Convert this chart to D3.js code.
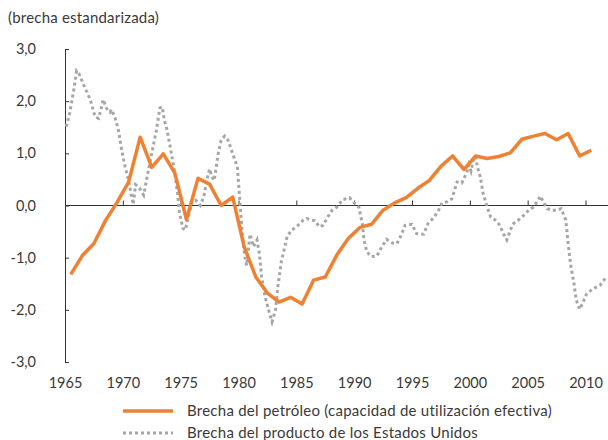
<!DOCTYPE html>
<html>
<head>
<meta charset="utf-8">
<script src="https://cdn.jsdelivr.net/npm/d3@7"></script>
<style>
  body { margin: 0; background: #fff; }
  svg text { font-family: Lato, "Open Sans", sans-serif; fill: #3a3a3a; }
</style>
</head>
<body>
<div id="chart"></div>
<script>
// brecha del petróleo, anual (1965-2010)
var oilYears = d3.range(1965, 2011);
var oilGap = [
  -1.32, -0.96, -0.73, -0.29, 0.06, 0.45, 1.31, 0.73, 0.99, 0.62,
  -0.27, 0.52, 0.41, 0.00, 0.16, -0.80, -1.37, -1.68, -1.85, -1.76,
  -1.89, -1.43, -1.37, -0.95, -0.63, -0.42, -0.36, -0.09, 0.05, 0.15,
  0.33, 0.48, 0.75, 0.95, 0.69, 0.95, 0.90, 0.94, 1.01, 1.27,
  1.33, 1.38, 1.26, 1.38, 0.95, 1.06
];

// brecha del producto de EE.UU. (año decimal, valor)
var usGap = [
  [1965.1, 1.51], [1965.4, 1.76], [1965.8, 2.27], [1966.0, 2.58], [1966.2, 2.53],
  [1966.7, 2.27], [1967.2, 2.02], [1967.6, 1.70], [1967.9, 1.67], [1968.2, 1.92],
  [1968.3, 2.03], [1968.6, 1.86], [1968.9, 1.79], [1969.0, 1.84], [1969.3, 1.70],
  [1969.6, 1.47], [1969.9, 1.06], [1970.2, 0.74], [1970.5, 0.48], [1970.7, 0.23],
  [1970.9, 0.02], [1971.1, 0.40], [1971.4, 0.35], [1971.8, 0.20], [1972.1, 0.55],
  [1972.5, 1.00], [1972.9, 1.44], [1973.2, 1.87], [1973.4, 1.89], [1973.6, 1.63],
  [1973.8, 1.47], [1974.1, 1.12], [1974.4, 0.74], [1974.7, 0.29], [1974.9, -0.15],
  [1975.2, -0.44], [1975.4, -0.47], [1975.7, -0.18], [1976.0, 0.08], [1976.3, 0.10],
  [1976.7, 0.00], [1977.0, 0.17], [1977.25, 0.48], [1977.5, 0.70], [1977.7, 0.55],
  [1977.9, 0.48], [1978.25, 1.00], [1978.5, 1.25], [1978.8, 1.33], [1979.1, 1.25],
  [1979.6, 0.93], [1979.9, 0.74], [1980.05, 0.29], [1980.2, -0.15], [1980.35, -0.60],
  [1980.55, -0.98], [1980.7, -1.15], [1981.0, -0.55], [1981.3, -0.79], [1981.6, -0.66],
  [1981.8, -0.92], [1982.0, -1.37], [1982.3, -1.75], [1982.6, -2.00], [1982.9, -2.23],
  [1983.2, -2.00], [1983.4, -1.56], [1983.7, -1.08], [1984.2, -0.60], [1984.6, -0.47],
  [1985.0, -0.41], [1985.3, -0.35], [1985.6, -0.28], [1985.9, -0.25], [1986.3, -0.28],
  [1986.6, -0.29], [1987.0, -0.41], [1987.3, -0.38], [1987.8, -0.19], [1988.1, -0.09],
  [1988.5, -0.03], [1989.0, 0.11], [1989.6, 0.15], [1989.9, 0.07], [1990.4, -0.03],
  [1990.7, -0.34], [1990.85, -0.66], [1991.1, -0.89], [1991.5, -0.98], [1991.95, -0.97],
  [1992.4, -0.79], [1992.8, -0.65], [1993.3, -0.72], [1993.7, -0.73], [1994.0, -0.60],
  [1994.4, -0.38], [1995.0, -0.36], [1995.4, -0.54], [1996.0, -0.55], [1996.4, -0.34],
  [1996.9, -0.23], [1997.3, -0.09], [1997.6, 0.05], [1998.0, 0.07], [1998.45, 0.13],
  [1998.9, 0.45], [1999.3, 0.43], [1999.75, 0.64], [1999.9, 0.78], [2000.1, 0.66],
  [2000.3, 0.87], [2000.5, 0.94], [2000.65, 0.74], [2000.9, 0.55], [2001.15, 0.23],
  [2001.5, -0.03], [2001.8, -0.22], [2002.2, -0.28], [2002.6, -0.38], [2002.9, -0.54],
  [2003.2, -0.66], [2003.5, -0.47], [2003.8, -0.34], [2004.2, -0.28], [2004.65, -0.19],
  [2005.1, -0.09], [2005.5, -0.03], [2005.9, 0.10], [2006.1, 0.18], [2006.4, 0.05],
  [2006.7, -0.06], [2007.1, -0.09], [2007.5, -0.09], [2007.9, -0.06], [2008.3, -0.28],
  [2008.5, -0.73], [2008.7, -1.11], [2009.0, -1.49], [2009.2, -1.81], [2009.5, -1.99],
  [2009.8, -1.85], [2010.1, -1.69], [2010.7, -1.59], [2011.25, -1.53], [2011.8, -1.37]
];

var yTicks = [-3, -2, -1, 0, 1, 2, 3];
var xTicks = [1965, 1970, 1975, 1980, 1985, 1990, 1995, 2000, 2005, 2010];
var seriesNames = [
  "Brecha del petróleo (capacidad de utilización efectiva)",
  "Brecha del producto de los Estados Unidos"
];
var unitLabel = "(brecha estandarizada)";

var oilColor = "#ee8232", usColor = "#a6a6a6", axisColor = "#333";

var W = 608, H = 440;
var x = d3.scaleLinear().domain([1965, 2010]).range([65, 585.5]);
var y = d3.scaleLinear().domain([-3, 3]).range([362, 49]);

var svg = d3.select("#chart").append("svg")
    .attr("width", W)
    .attr("height", H);

svg.append("text")
    .attr("x", 8)
    .attr("y", 23)
    .style("font-size", "15px")
    .style("letter-spacing", "0.2px")
    .text(unitLabel);

// eje Y
var yAxis = svg.append("g")
    .attr("transform", "translate(" + x(1965) + ",0)")
    .call(d3.axisLeft(y).tickValues(yTicks)
        .tickSizeInner(-4).tickSizeOuter(-4).tickPadding(29)
        .tickFormat(function(d) { return d3.format(".1f")(d).replace(".", ",").replace("−", "-"); }));
yAxis.selectAll("path, line").attr("stroke", axisColor);
yAxis.selectAll("text").style("font-size", "14.5px").attr("fill", "#3a3a3a");

// línea del cero con marcas
var zeroAxis = svg.append("g")
    .attr("transform", "translate(0," + y(0) + ")")
    .call(d3.axisTop(x).tickValues(xTicks).tickSizeInner(5).tickSizeOuter(0).tickFormat(""));
zeroAxis.select(".domain").attr("d", "M" + x(1965) + ",0H" + W);
zeroAxis.selectAll("path, line").attr("stroke", axisColor);

// etiquetas de años
var xLabels = svg.append("g")
    .attr("transform", "translate(0," + y(-3) + ")")
    .call(d3.axisBottom(x).tickValues(xTicks).tickSize(0).tickPadding(16).tickFormat(d3.format("d")));
xLabels.select(".domain").remove();
xLabels.selectAll("text").style("font-size", "14.5px").attr("fill", "#3a3a3a");

// series
var usLine = d3.line()
    .x(function(d) { return x(d[0]); })
    .y(function(d) { return y(d[1]); });

svg.append("path")
    .datum(usGap)
    .attr("fill", "none")
    .attr("stroke", usColor)
    .attr("stroke-width", 3)
    .attr("stroke-dasharray", "3,3")
    .attr("d", usLine);

var oilLine = d3.line()
    .x(function(d, i) { return x(oilYears[i] + 0.5); })
    .y(function(d) { return y(d); });

svg.append("path")
    .datum(oilGap)
    .attr("fill", "none")
    .attr("stroke", oilColor)
    .attr("stroke-width", 3.5)
    .attr("stroke-linejoin", "round")
    .attr("d", oilLine);

// leyenda
var legend = svg.append("g").attr("class", "legend");
var legendRows = [
  {name: seriesNames[0], color: oilColor, dash: null, w: 3.5, y: 411},
  {name: seriesNames[1], color: usColor, dash: "3,3", w: 3, y: 433}
];
legendRows.forEach(function(r) {
    legend.append("line")
        .attr("x1", 123).attr("x2", 173)
        .attr("y1", r.y).attr("y2", r.y)
        .attr("stroke", r.color)
        .attr("stroke-width", r.w)
        .attr("stroke-dasharray", r.dash);
    legend.append("text")
        .attr("x", 187)
        .attr("y", r.y + 5)
        .style("font-size", "15px")
        .style("letter-spacing", "0.25px")
        .text(r.name);
});
</script>
</body>
</html>
